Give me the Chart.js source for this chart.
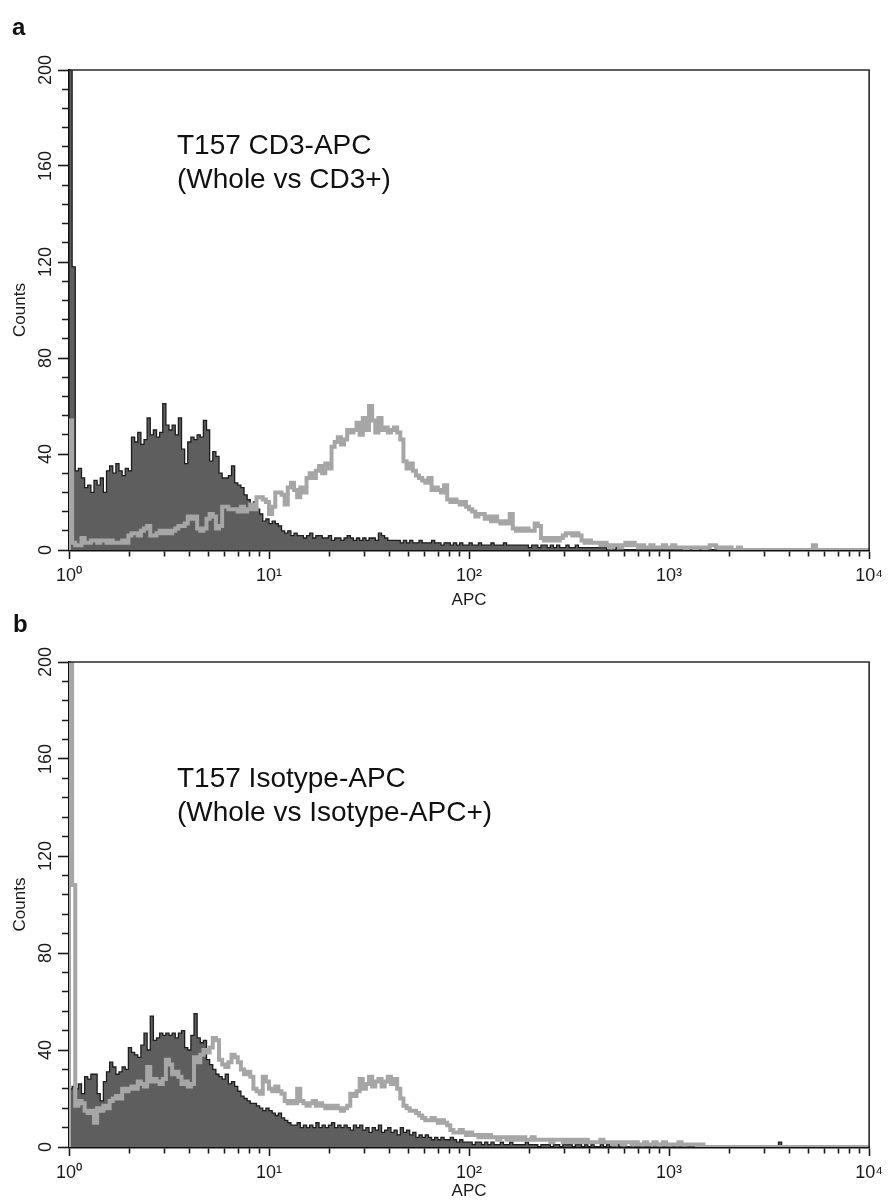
<!DOCTYPE html>
<html>
<head>
<meta charset="utf-8">
<script src="https://cdn.jsdelivr.net/npm/chart.js@4.4.0/dist/chart.umd.min.js"></script>
<style>
  body { margin: 0; background: #fff; }
  #wrap { position: relative; width: 889px; height: 1200px; }
  canvas { position: absolute; left: 0; }
</style>
</head>
<body>
<div id="wrap">
  <canvas id="chartA" width="889" height="612" style="top:0px"></canvas>
  <canvas id="chartB" width="889" height="588" style="top:612px"></canvas>
</div>
<script>
// Histogram counts, 256 channels, 64 channels per decade (10^0 .. 10^4)
const wholeA = [
  250, 118, 33, 34, 30, 26, 27, 24, 29, 27, 30, 24, 33, 35, 32, 36,
  33, 31, 34, 33, 47, 45, 49, 44, 46, 55, 48, 50, 47, 49, 61, 52,
  50, 52, 48, 55, 42, 36, 45, 47, 46, 48, 47, 54, 50, 37, 41, 39,
  32, 30, 30, 31, 35, 28, 27, 26, 23, 21, 19, 20, 17, 15, 12, 13,
  11, 12, 11, 10, 8, 7, 8, 6, 7, 6, 6, 5, 6, 7, 5, 6,
  6, 5, 5, 6, 4, 5, 5, 4, 5, 6, 5, 4, 5, 4, 5, 4,
  5, 5, 4, 7, 6, 5, 4, 4, 4, 4, 3, 4, 3, 4, 3, 3,
  4, 3, 3, 3, 4, 3, 3, 2, 3, 3, 2, 3, 2, 3, 2, 2,
  3, 2, 2, 3, 2, 2, 2, 3, 2, 2, 2, 3, 2, 2, 2, 2,
  2, 2, 2, 1, 2, 2, 1, 2, 2, 1, 2, 1, 2, 1, 1, 2,
  1, 1, 2, 1, 1, 1, 1, 1, 1, 1, 1, 1, 0, 1, 0, 1,
  0, 0, 0, 0, 0, 0, 0, 0, 0, 0, 0, 0, 0, 0, 0, 0,
  0, 0, 0, 0, 0, 0, 0, 0, 0, 0, 0, 0, 0, 0, 0, 0,
  0, 0, 0, 0, 0, 0, 0, 0, 0, 0, 0, 0, 0, 0, 0, 0,
  0, 0, 0, 0, 0, 0, 0, 0, 0, 0, 0, 0, 0, 0, 0, 0,
  0, 0, 0, 0, 0, 0, 0, 0, 0, 0, 0, 0, 0, 0, 0, 0
];
const cd3A = [
  54, 3, 2, 2, 5, 3, 3, 4, 4, 3, 4, 4, 3, 4, 3, 3,
  3, 4, 3, 6, 7, 7, 6, 8, 9, 10, 6, 6, 7, 8, 7, 8,
  7, 8, 9, 10, 10, 11, 14, 13, 14, 9, 8, 9, 13, 15, 14, 9,
  10, 18, 18, 17, 17, 17, 16, 18, 16, 17, 19, 17, 22, 22, 21, 20,
  15, 18, 24, 24, 23, 19, 26, 28, 25, 22, 26, 24, 30, 32, 30, 33,
  35, 32, 36, 34, 43, 45, 47, 44, 46, 50, 49, 50, 53, 48, 55, 50,
  60, 54, 49, 55, 50, 51, 49, 50, 51, 49, 46, 37, 34, 36, 33, 31,
  30, 29, 28, 30, 25, 26, 25, 24, 27, 21, 20, 21, 20, 19, 20, 18,
  17, 16, 14, 15, 15, 13, 14, 12, 14, 12, 11, 12, 11, 15, 9, 8,
  9, 8, 9, 8, 8, 11, 10, 5, 4, 5, 4, 5, 4, 5, 6, 7,
  7, 6, 7, 6, 4, 3, 4, 3, 3, 3, 2, 3, 2, 1, 2, 2,
  1, 2, 3, 2, 3, 2, 1, 2, 1, 1, 2, 1, 1, 1, 2, 1,
  1, 2, 1, 1, 1, 0, 1, 1, 0, 1, 1, 0, 1, 2, 2, 1,
  0, 1, 0, 1, 0, 0, 1, 0, 0, 0, 0, 0, 0, 0, 0, 0,
  0, 0, 0, 0, 0, 0, 0, 0, 0, 0, 0, 0, 0, 0, 2, 0,
  0, 0, 0, 0, 0, 0, 0, 0, 0, 0, 0, 0, 0, 0, 0, 0
];
const wholeB = [
  24, 25, 24, 26, 22, 29, 28, 30, 30, 22, 19, 27, 31, 35, 33, 30,
  31, 33, 32, 41, 39, 38, 37, 42, 47, 40, 54, 44, 45, 47, 46, 47,
  46, 47, 45, 47, 48, 41, 40, 46, 55, 45, 43, 44, 36, 34, 32, 30,
  29, 28, 30, 26, 27, 25, 23, 21, 20, 19, 18, 18, 17, 16, 15, 16,
  15, 14, 13, 14, 12, 11, 10, 9, 9, 10, 8, 9, 8, 9, 8, 10,
  8, 9, 8, 9, 10, 8, 9, 8, 9, 8, 7, 9, 8, 9, 7, 8,
  6, 8, 7, 9, 6, 7, 8, 6, 7, 5, 8, 6, 7, 5, 6, 4,
  5, 4, 5, 4, 3, 4, 3, 4, 3, 3, 4, 3, 2, 3, 2, 2,
  2, 1, 2, 2, 1, 2, 1, 2, 1, 1, 2, 1, 1, 2, 1, 1,
  1, 1, 2, 1, 1, 1, 0, 1, 1, 1, 0, 1, 1, 0, 1, 1,
  1, 0, 1, 1, 0, 1, 0, 1, 0, 0, 1, 0, 1, 0, 0, 1,
  0, 1, 0, 0, 1, 0, 0, 1, 0, 0, 1, 0, 1, 1, 0, 1,
  1, 0, 1, 0, 1, 1, 0, 0, 1, 0, 0, 0, 0, 0, 0, 0,
  0, 0, 0, 0, 0, 0, 0, 0, 0, 0, 0, 0, 0, 0, 0, 0,
  0, 0, 0, 2, 0, 0, 0, 0, 0, 0, 0, 0, 0, 0, 0, 0,
  0, 0, 0, 0, 0, 0, 0, 0, 0, 0, 0, 0, 0, 0, 0, 0
];
const isoB = [
  250, 108, 17, 19, 18, 15, 14, 15, 10, 16, 15, 17, 16, 19, 20, 21,
  20, 24, 23, 24, 25, 24, 27, 26, 25, 33, 27, 28, 27, 26, 28, 36,
  34, 30, 31, 29, 26, 27, 25, 26, 37, 35, 38, 40, 39, 41, 45, 44,
  36, 34, 33, 35, 38, 37, 35, 32, 30, 31, 29, 24, 23, 22, 29, 27,
  24, 23, 25, 23, 22, 19, 18, 19, 18, 24, 19, 18, 17, 18, 19, 17,
  18, 17, 16, 17, 16, 17, 16, 15, 16, 17, 22, 21, 23, 28, 24, 26,
  29, 25, 27, 28, 25, 27, 29, 26, 28, 24, 20, 17, 16, 15, 15, 14,
  13, 12, 11, 11, 12, 11, 10, 11, 10, 9, 7, 6, 6, 7, 6, 5,
  6, 5, 5, 4, 5, 4, 5, 4, 4, 3, 4, 4, 3, 4, 3, 4,
  3, 4, 3, 3, 4, 3, 3, 3, 3, 3, 2, 3, 3, 3, 2, 3,
  2, 3, 2, 3, 2, 3, 2, 2, 2, 2, 3, 2, 2, 2, 1, 2,
  2, 1, 2, 2, 1, 2, 1, 1, 2, 1, 1, 2, 1, 1, 2, 1,
  1, 1, 1, 2, 1, 1, 1, 1, 1, 0, 1, 0, 0, 0, 0, 0,
  0, 0, 0, 0, 0, 0, 0, 0, 0, 0, 0, 0, 0, 0, 0, 0,
  0, 0, 0, 0, 0, 0, 0, 0, 0, 0, 0, 0, 0, 0, 0, 0,
  0, 0, 0, 0, 0, 0, 0, 0, 0, 0, 0, 0, 0, 0, 0, 0
];

const channelsPerDecade = 64;
const decades = [1, 10, 100, 1000, 10000];
const decadeLabels = ['10⁰', '10¹', '10²', '10³', '10⁴'];
const minorSteps = [2, 3, 4, 5, 6, 7, 8, 9];
const yMajor = 40;   // labelled every 40 counts
const yMinor = 8;    // tick every 8 counts

Chart.defaults.font.family = "'Liberation Sans', Arial, sans-serif";
Chart.defaults.color = '#1a1a1a';

// bin i starts at 10^(i/64); leading zero point draws the left edge of the first bin
function toPoints(counts) {
  const pts = [{ x: 1, y: 0 }];
  counts.forEach((c, i) => pts.push({ x: Math.pow(10, i / channelsPerDecade), y: c }));
  pts.push({ x: 10000, y: counts[counts.length - 1] });
  return pts;
}

function logTicks() {
  const list = [];
  decades.forEach((d, k) => {
    list.push({ value: d, major: true });
    if (k < decades.length - 1) minorSteps.forEach(m => list.push({ value: d * m, major: false }));
  });
  return list;
}

function makePanel(id, whole, gated, p) {
  const panelText = {
    id: 'panelText',
    afterDraw(chart) {
      const ctx = chart.ctx;
      const a = chart.chartArea;
      ctx.save();
      // frame top and right
      ctx.strokeStyle = '#2a2a2a';
      ctx.lineWidth = 1.6;
      ctx.beginPath();
      ctx.moveTo(a.left, a.top);
      ctx.lineTo(a.right, a.top);
      ctx.lineTo(a.right, a.bottom);
      ctx.stroke();
      // panel letter
      ctx.fillStyle = '#111';
      ctx.font = "bold 24px 'Liberation Sans', Arial, sans-serif";
      ctx.textBaseline = 'alphabetic';
      ctx.fillText(p.letter, p.letterX, p.letterY);
      // annotation
      ctx.font = "28px 'Liberation Sans', Arial, sans-serif";
      p.lines.forEach((t, i) => ctx.fillText(t, p.textX, p.textY[i]));
      ctx.restore();
    }
  };

  return new Chart(document.getElementById(id), {
    type: 'line',
    data: {
      datasets: [
        {
          label: 'Gated',
          data: toPoints(gated),
          stepped: true,
          borderColor: '#a6a6a6',
          borderWidth: 4,
          pointRadius: 0,
          fill: false
        },
        {
          label: 'Whole',
          data: toPoints(whole),
          stepped: true,
          borderColor: '#1c1c1c',
          borderWidth: 1.3,
          backgroundColor: '#5e5e5e',
          pointRadius: 0,
          fill: 'origin'
        }
      ]
    },
    options: {
      responsive: false,
      animation: false,
      events: [],
      layout: { padding: { top: p.top, right: 17, left: 0, bottom: 0 } },
      plugins: { legend: { display: false }, tooltip: { enabled: false } },
      scales: {
        x: {
          type: 'logarithmic',
          min: 1,
          max: 10000,
          afterBuildTicks: s => { s.ticks = logTicks(); },
          afterFit: s => { s.height = p.xHeight; },
          border: { display: true, color: '#111', width: 2.5 },
          grid: {
            drawOnChartArea: false,
            tickLength: 9,
            tickColor: '#1a1a1a',
            tickWidth: 1.6,
            tickBorderDash: c => (c.tick && c.tick.major ? [] : [5, 100])
          },
          ticks: {
            autoSkip: false,
            maxRotation: 0,
            padding: 6,
            font: { size: 18 },
            callback: v => {
              const k = decades.indexOf(v);
              return k >= 0 ? decadeLabels[k] : '';
            }
          },
          title: {
            display: true,
            text: 'APC',
            font: { size: 17, lineHeight: 1 },
            padding: { top: 0, bottom: p.titlePad }
          }
        },
        y: {
          type: 'linear',
          min: 0,
          max: 200,
          afterFit: s => { s.width = 69; },
          border: { display: true, color: '#111', width: 2.5 },
          grid: {
            drawOnChartArea: false,
            tickLength: 11,
            tickColor: '#1a1a1a',
            tickWidth: 1.6,
            tickBorderDash: c => (c.tick && c.tick.value % yMajor === 0 ? [] : [0, 4, 6, 100])
          },
          ticks: {
            stepSize: yMinor,
            autoSkip: false,
            minRotation: 90,
            maxRotation: 90,
            crossAlign: 'center',
            padding: -3,
            font: { size: 18 },
            callback: v => (v % yMajor === 0 ? String(v) : '')
          },
          title: {
            display: true,
            text: 'Counts',
            font: { size: 17, lineHeight: 1 },
            padding: { top: 12, bottom: 0 }
          }
        }
      }
    },
    plugins: [panelText]
  });
}

makePanel('chartA', wholeA, cd3A, {
  top: 70, xHeight: 62, titlePad: 3,
  letter: 'a', letterX: 12, letterY: 35,
  lines: ['T157 CD3-APC', '(Whole vs CD3+)'], textX: 177, textY: [154, 188]
});
makePanel('chartB', wholeB, isoB, {
  top: 50, xHeight: 53, titlePad: 0,
  letter: 'b', letterX: 13, letterY: 20,
  lines: ['T157 Isotype-APC', '(Whole vs Isotype-APC+)'], textX: 177, textY: [175, 209]
});
</script>
</body>
</html>
